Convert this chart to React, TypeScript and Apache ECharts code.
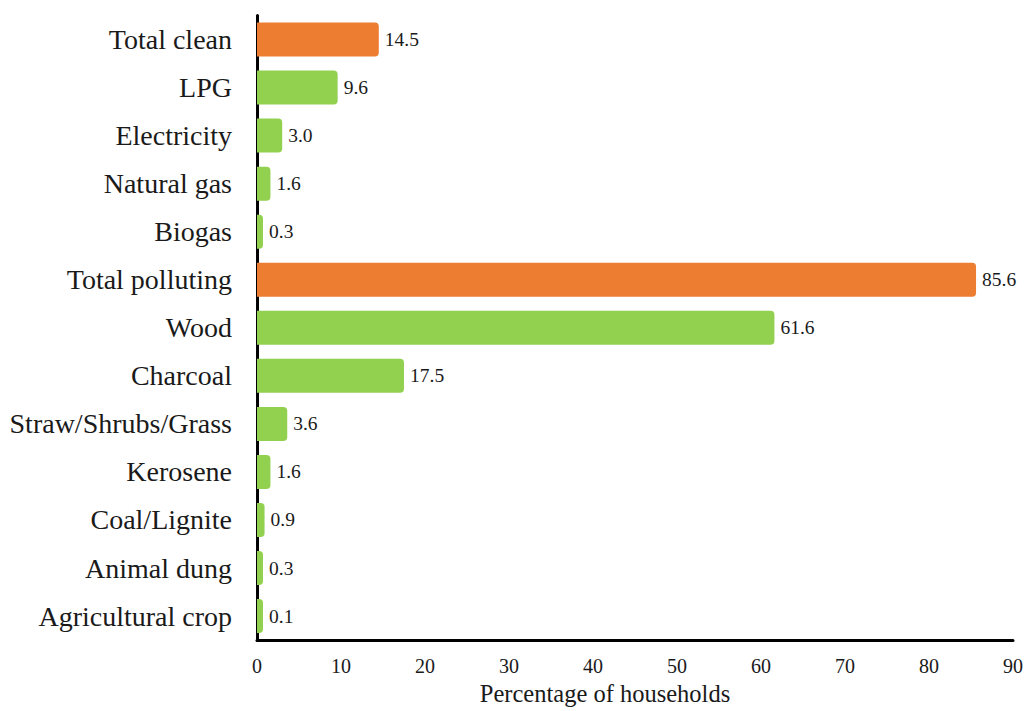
import React, { useEffect, useRef } from "react";
import * as echarts from "echarts";

// Household cooking fuel shares (%)
const categories = [
  "Total clean",
  "LPG",
  "Electricity",
  "Natural gas",
  "Biogas",
  "Total polluting",
  "Wood",
  "Charcoal",
  "Straw/Shrubs/Grass",
  "Kerosene",
  "Coal/Lignite",
  "Animal dung",
  "Agricultural crop",
];
const values = [14.5, 9.6, 3.0, 1.6, 0.3, 85.6, 61.6, 17.5, 3.6, 1.6, 0.9, 0.3, 0.1];
const totals = ["Total clean", "Total polluting"];
const xTicks = [0, 10, 20, 30, 40, 50, 60, 70, 80, 90];

const ORANGE = "#ED7D31";
const GREEN = "#92D050";
const FONT = "'Liberation Serif', 'Times New Roman', serif";

export default function App() {
  const ref = useRef<HTMLDivElement>(null);

  useEffect(() => {
    if (!ref.current) return;
    const chart = echarts.init(ref.current, null, { renderer: "svg" });
    chart.setOption({
      animation: false,
      backgroundColor: "#ffffff",
      grid: { left: 257, width: 756, top: 15.5, height: 634, containLabel: false },
      xAxis: {
        type: "value",
        min: xTicks[0],
        max: xTicks[xTicks.length - 1],
        interval: 10,
        axisLine: { show: true, lineStyle: { color: "#000", width: 3 } },
        axisTick: { show: false },
        splitLine: { show: false },
        axisLabel: { color: "#1a1a1a", fontFamily: FONT, fontSize: 20, margin: 16 },
        name: "Percentage of households",
        nameLocation: "middle",
        nameGap: 36,
        nameTextStyle: {
          color: "#1a1a1a",
          fontFamily: FONT,
          fontSize: 24.5,
          padding: [0, 60, 0, 0],
        },
      },
      yAxis: {
        type: "category",
        inverse: true,
        data: categories,
        axisLine: { show: true, lineStyle: { color: "#000", width: 3 } },
        axisTick: { show: false },
        axisLabel: { color: "#1a1a1a", fontFamily: FONT, fontSize: 28, margin: 25 },
      },
      series: [
        {
          type: "bar",
          barWidth: 34,
          barMinHeight: 6,
          data: categories.map((c, i) => ({
            value: values[i],
            itemStyle: {
              color: totals.includes(c) ? ORANGE : GREEN,
              borderRadius: [0, 4, 4, 0],
            },
          })),
          label: {
            show: true,
            position: "right",
            distance: 6,
            color: "#1a1a1a",
            fontFamily: FONT,
            fontSize: 19.5,
            formatter: (p: any) => Number(p.value).toFixed(1),
          },
        },
      ],
    });
    return () => chart.dispose();
  }, []);

  return (
    <div
      ref={ref}
      style={{ position: "fixed", left: 0, top: 0, width: 1027, height: 711 }}
    />
  );
}
